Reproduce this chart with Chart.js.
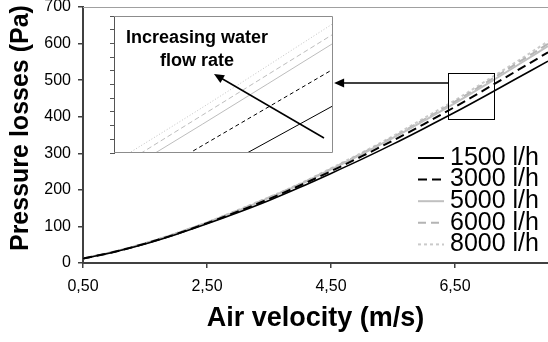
<!DOCTYPE html>
<html>
<head>
<meta charset="utf-8">
<script src="https://cdn.jsdelivr.net/npm/chart.js@4.4.0/dist/chart.umd.min.js"></script>
<style>
  html, body { margin: 0; padding: 0; background: #fff; }
  #wrap { position: relative; width: 548px; height: 342px; overflow: hidden; }
  #main { position: absolute; left: 0; top: 0; }
  #inset { position: absolute; left: 100px; top: 10px; }
</style>
</head>
<body>
<div id="wrap">
  <canvas id="main" width="548" height="342"></canvas>
  <canvas id="inset" width="236" height="146"></canvas>
</div>
<script>
// Air velocity (m/s) sample points
const velocity = [0.5, 1.0, 1.5, 2.0, 2.5, 3.0, 3.5, 4.0, 4.5, 5.0, 5.5, 6.0, 6.5, 7.0, 7.5, 8.0];

// Pressure losses (Pa) per water flow rate
const loss1500 = [12, 30, 52, 78, 107, 138, 171, 207, 245, 284, 325, 368, 412, 458, 505, 552];
const loss3000 = [12, 30, 53, 79, 109, 141, 175, 212, 251, 292, 335, 380, 427, 476, 526, 576];
const loss5000 = [12, 31, 53, 80, 110, 143, 178, 215, 256, 298, 342, 389, 437, 488, 540, 593];
const loss6000 = [12, 31, 54, 81, 111, 144, 179, 216, 257, 300, 344, 392, 441, 493, 546, 599];
const loss8000 = [12, 31, 54, 81, 111, 145, 180, 217, 259, 302, 347, 396, 445, 498, 551, 606];

const seriesLabels = ['1500 l/h', '3000 l/h', '5000 l/h', '6000 l/h', '8000 l/h'];
const seriesValues = [loss1500, loss3000, loss5000, loss6000, loss8000];

const xTicks = [0.5, 2.5, 4.5, 6.5];
const xTickLabels = ['0,50', '2,50', '4,50', '6,50'];
const yTicks = [0, 100, 200, 300, 400, 500, 600, 700];
const yTickLabels = ['0', '100', '200', '300', '400', '500', '600', '700'];

// zoom box on the curves and the arrow that points at the inset
const zoomBox = { x0: 6.39, x1: 7.13, y0: 393, y1: 519 };
const zoomArrow = { fromX: 6.39, toX: 4.55, y: 492 };

const FONT = '"Liberation Sans", Arial, sans-serif';
const AXIS = '#404040';

Chart.defaults.font.family = FONT;
Chart.defaults.color = '#000';

// line looks for the main plot and for the inset
const mainStyles = [
    { color: '#000000', width: 1.6, dash: [] },
    { color: '#000000', width: 2, dash: [9, 5] },
    { color: '#c0c0c0', width: 2, dash: [] },
    { color: '#b4b4b4', width: 2, dash: [8, 5] },
    { color: '#cacaca', width: 2, dash: [3, 3] }
];
const insetStyles = [
    { color: '#000000', width: 1, dash: [] },
    { color: '#000000', width: 1, dash: [4, 3] },
    { color: '#bdbdbd', width: 1, dash: [] },
    { color: '#bdbdbd', width: 1, dash: [5, 3] },
    { color: '#c4c4c4', width: 1, dash: [1, 2] }
];

function buildDatasets(styles) {
    return seriesValues.map((vals, i) => ({
        label: seriesLabels[i],
        data: velocity.map((v, j) => ({ x: v, y: vals[j] })),
        borderColor: styles[i].color,
        borderWidth: styles[i].width,
        borderDash: styles[i].dash,
        pointRadius: 0,
        cubicInterpolationMode: 'monotone',
        fill: false,
        clip: 0
    }));
}

function drawArrow(ctx, x1, y1, x2, y2) {
    const ang = Math.atan2(y2 - y1, x2 - x1);
    const len = 10, half = 4.5;
    ctx.beginPath();
    ctx.moveTo(x1, y1);
    ctx.lineTo(x2 - Math.cos(ang) * len * 0.8, y2 - Math.sin(ang) * len * 0.8);
    ctx.stroke();
    ctx.beginPath();
    ctx.moveTo(x2, y2);
    ctx.lineTo(x2 - Math.cos(ang) * len + Math.sin(ang) * half, y2 - Math.sin(ang) * len - Math.cos(ang) * half);
    ctx.lineTo(x2 - Math.cos(ang) * len - Math.sin(ang) * half, y2 - Math.sin(ang) * len + Math.cos(ang) * half);
    ctx.closePath();
    ctx.fill();
}

const plotFrame = {
    id: 'plotFrame',
    beforeDatasetsDraw(chart) {
        const { ctx, chartArea } = chart;
        ctx.save();
        ctx.strokeStyle = '#a0a0a0';
        ctx.lineWidth = 1;
        ctx.beginPath();
        ctx.moveTo(chartArea.left, chartArea.top + 0.5);
        ctx.lineTo(chartArea.right, chartArea.top + 0.5);
        ctx.stroke();
        ctx.restore();
    }
};

const zoomMarks = {
    id: 'zoomMarks',
    afterDraw(chart) {
        const { ctx, scales: { x, y } } = chart;
        ctx.save();
        ctx.strokeStyle = '#000';
        ctx.fillStyle = '#000';
        ctx.lineWidth = 1;
        const bx0 = Math.round(x.getPixelForValue(zoomBox.x0)) + 0.5;
        const bx1 = Math.round(x.getPixelForValue(zoomBox.x1)) + 0.5;
        const by0 = Math.round(y.getPixelForValue(zoomBox.y1)) + 0.5;
        const by1 = Math.round(y.getPixelForValue(zoomBox.y0)) + 0.5;
        ctx.strokeRect(bx0, by0, bx1 - bx0, by1 - by0);
        ctx.lineWidth = 1.5;
        const ay = y.getPixelForValue(zoomArrow.y);
        drawArrow(ctx, x.getPixelForValue(zoomArrow.fromX), ay, x.getPixelForValue(zoomArrow.toX), ay);
        ctx.restore();
    }
};

const innerLegend = {
    id: 'innerLegend',
    afterDraw(chart) {
        const { ctx, chartArea } = chart;
        ctx.save();
        ctx.font = '25px ' + FONT;
        ctx.textBaseline = 'middle';
        ctx.textAlign = 'left';
        chart.data.datasets.forEach((ds, i) => {
            const yy = chartArea.top + 151 + i * 21.6;
            const x0 = chartArea.right - 130;
            ctx.strokeStyle = ds.borderColor;
            ctx.lineWidth = 2;
            ctx.setLineDash(ds.borderDash || []);
            ctx.beginPath();
            ctx.moveTo(x0, yy);
            ctx.lineTo(x0 + 26, yy);
            ctx.stroke();
            ctx.setLineDash([]);
            ctx.fillStyle = '#000';
            ctx.fillText(ds.label, x0 + 32, yy);
        });
        ctx.restore();
    }
};

new Chart(document.getElementById('main'), {
    type: 'line',
    data: { datasets: buildDatasets(mainStyles) },
    options: {
        responsive: false,
        animation: false,
        layout: { padding: { top: 7, right: 0, bottom: 0, left: 0 } },
        plugins: { legend: { display: false }, tooltip: { enabled: false } },
        scales: {
            x: {
                type: 'linear',
                min: 0.5,
                max: 8.0,
                afterBuildTicks: (s) => { s.ticks = xTicks.map(v => ({ value: v })); },
                afterFit: (s) => { s.height = 79; s.paddingLeft = 0; s.paddingRight = 0; },
                ticks: {
                    autoSkip: false,
                    maxRotation: 0,
                    padding: 9,
                    font: { size: 16 },
                    callback: (v, i) => xTickLabels[i]
                },
                grid: { drawOnChartArea: false, tickLength: 5, color: AXIS, lineWidth: 1.5 },
                border: { color: AXIS, width: 2 },
                title: {
                    display: true,
                    text: 'Air velocity (m/s)',
                    font: { size: 27, weight: 'bold' },
                    padding: { top: 0, bottom: 7 }
                }
            },
            y: {
                min: 0,
                max: 700,
                afterBuildTicks: (s) => { s.ticks = yTicks.map(v => ({ value: v })); },
                afterFit: (s) => { s.width = 83; s.paddingTop = 0; s.paddingBottom = 0; },
                ticks: {
                    padding: 7,
                    font: { size: 16 },
                    callback: (v, i) => yTickLabels[i]
                },
                grid: { drawOnChartArea: false, tickLength: 5, color: AXIS, lineWidth: 1.5 },
                border: { color: AXIS, width: 2 },
                title: {
                    display: true,
                    // two leading spaces nudge the title up a little, like the original
                    text: '  Pressure losses (Pa)',
                    font: { size: 25, weight: 'bold' },
                    padding: { top: 6, bottom: 0 }
                }
            }
        }
    },
    plugins: [plotFrame, zoomMarks, innerLegend]
});

// inset: magnified view of the curve ends
const insetNote = {
    id: 'insetNote',
    beforeDraw(chart) {
        const { ctx, chartArea: a } = chart;
        ctx.save();
        ctx.fillStyle = '#fff';
        ctx.fillRect(a.left, a.top, a.right - a.left, a.bottom - a.top);
        ctx.restore();
    },
    afterDraw(chart) {
        const { ctx, chartArea: a } = chart;
        ctx.save();
        ctx.strokeStyle = '#8c8c8c';
        ctx.lineWidth = 1;
        ctx.beginPath();
        ctx.moveTo(a.left, a.top + 0.5);
        ctx.lineTo(a.right - 0.5, a.top + 0.5);
        ctx.lineTo(a.right - 0.5, a.bottom - 0.5);
        ctx.lineTo(a.left, a.bottom - 0.5);
        ctx.stroke();

        ctx.fillStyle = '#000';
        ctx.font = 'bold 18px ' + FONT;
        ctx.textAlign = 'center';
        ctx.textBaseline = 'middle';
        ctx.fillText('Increasing water', a.left + 83, a.top + 22);
        ctx.fillText('flow rate', a.left + 83, a.top + 45);

        ctx.strokeStyle = '#000';
        ctx.lineWidth = 1.5;
        drawArrow(ctx, a.left + 210, a.top + 122, a.left + 100, a.top + 58);
        ctx.restore();
    }
};

new Chart(document.getElementById('inset'), {
    type: 'line',
    data: { datasets: buildDatasets(insetStyles) },
    options: {
        responsive: false,
        animation: false,
        layout: { padding: { top: 6, right: 3, bottom: 3, left: 0 } },
        plugins: { legend: { display: false }, tooltip: { enabled: false } },
        scales: {
            x: { type: 'linear', min: 7.16, max: 8.0, display: false },
            y: {
                min: 521,
                max: 611,
                afterFit: (s) => { s.width = 14; s.paddingTop = 0; s.paddingBottom = 0; },
                ticks: { stepSize: 9, display: false },
                grid: { drawOnChartArea: false, tickLength: 4, color: '#555' },
                border: { color: '#555', width: 1 }
            }
        }
    },
    plugins: [insetNote]
});
</script>
</body>
</html>
